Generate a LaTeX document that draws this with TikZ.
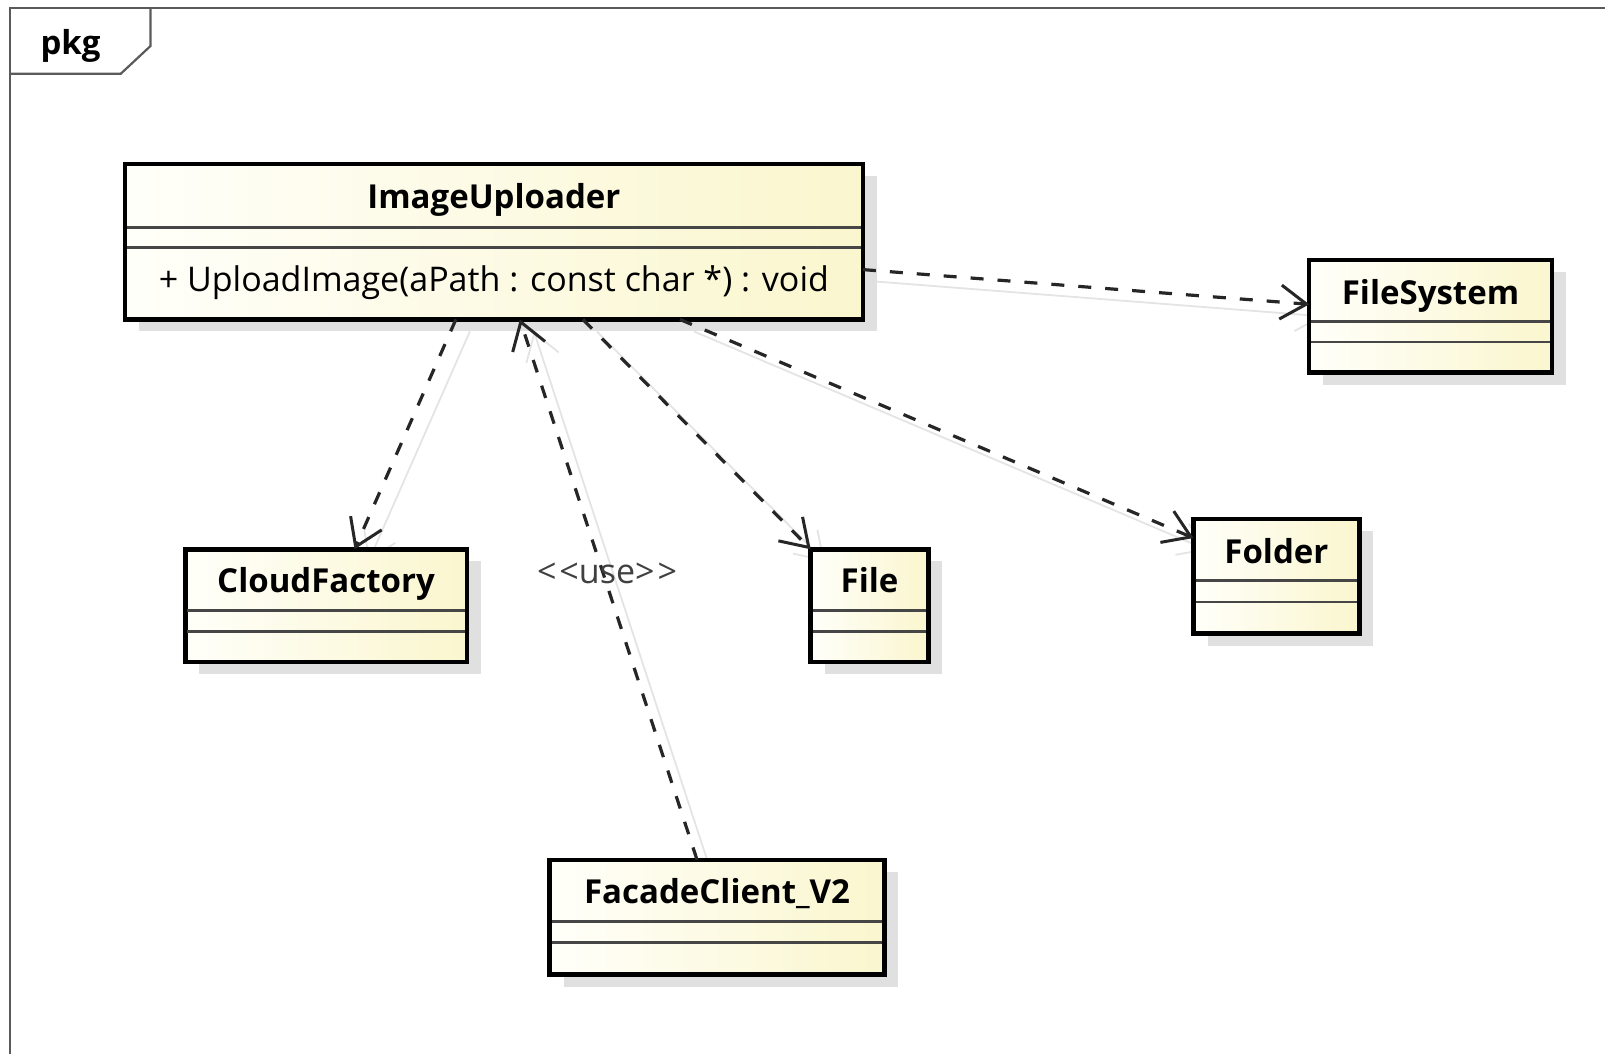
\documentclass[tikz,border=0pt]{standalone}
\usepackage{fontspec}
\setmainfont{Open Sans}
\usetikzlibrary{arrows.meta,shadows,calc}
\definecolor{clsL}{RGB}{255,255,250}
\definecolor{clsR}{RGB}{250,246,206}
\definecolor{frameC}{RGB}{90,90,90}
\definecolor{sepC}{RGB}{70,70,70}
\definecolor{shC}{RGB}{224,224,224}
\definecolor{lnshC}{RGB}{228,228,228}
\begin{document}
\begin{tikzpicture}[x=1pt,y=-1pt,
  font=\fontsize{34}{40}\selectfont,
  cls/.style={draw=black, line width=4.5pt, left color=clsL, right color=clsR,
    anchor=north west, inner sep=0pt, outer sep=0pt,
    general shadow={fill=shC, shadow xshift=14pt, shadow yshift=-12pt}},
  clsname/.style={anchor=base, inner sep=0pt, font=\fontsize{33}{40}\selectfont\bfseries},
  member/.style={anchor=base, inner sep=0pt},
  sep/.style={draw=sepC, line width=2.8pt, shorten <=2pt, shorten >=2pt},
  frameline/.style={draw=frameC, line width=2.2pt},
  dep/.style={draw=black!85, line width=3.2pt, dash pattern=on 13pt off 14pt,
    -{Straight Barb[length=26pt,width=34pt,line width=3pt]}},
  depsh/.style={draw=lnshC, line width=1.8pt,
    -{Straight Barb[length=26pt,width=34pt,line width=1.8pt]},
    transform canvas={xshift=14pt,yshift=-12pt}}
]
\useasboundingbox (0,0) rectangle (1605,1053);

% package frame
\draw[frameline] (1625,8) -- (10,8) -- (10,1075);
\draw[frameline] (10,73.7) -- (120.8,73.7) -- (150.5,46) -- (150.5,8);
\node[clsname] (pkg) at (70.5,54) {pkg};

% class box positions
\coordinate (iuP) at (124.9,163.8);
\coordinate (fsP) at (1309.2,260);
\coordinate (cfP) at (185.3,549.3);
\coordinate (flP) at (810.7,549.3);
\coordinate (foP) at (1193.5,519);
\coordinate (fcP) at (549.7,859.8);

% geometry helper nodes
\path (iuP) node[anchor=north west, minimum width=738pt, minimum height=155.6pt, inner sep=0pt, outer sep=0pt] (iu) {};
\path (fsP) node[anchor=north west, minimum width=242.6pt, minimum height=112.6pt, inner sep=0pt, outer sep=0pt] (fs) {};
\path (cfP) node[anchor=north west, minimum width=281.5pt, minimum height=112.6pt, inner sep=0pt, outer sep=0pt] (cf) {};
\path (flP) node[anchor=north west, minimum width=117.7pt, minimum height=112.6pt, inner sep=0pt, outer sep=0pt] (fl) {};
\path (foP) node[anchor=north west, minimum width=165.8pt, minimum height=114.6pt, inner sep=0pt, outer sep=0pt] (fo) {};
\path (fcP) node[anchor=north west, minimum width=334.7pt, minimum height=114.7pt, inner sep=0pt, outer sep=0pt] (fc) {};

% connector shadows
\draw[depsh] ([yshift=-28pt]iu.east) -- ([yshift=12pt]fs.west);
\draw[depsh] ([xshift=-38pt]iu.south) -- ([xshift=28.5pt]cf.north);
\draw[depsh] ([xshift=-20pt]fc.north) -- ([xshift=26pt]iu.south);
\draw[depsh] ([xshift=89pt]iu.south) -- (fl.north west);
\draw[depsh] ([xshift=186pt]iu.south) -- ([yshift=-19pt]fo.north west);

% boxes
\node[cls, minimum width=738pt, minimum height=155.6pt] (iuB) at (iuP) {};
\node[cls, minimum width=242.6pt, minimum height=112.6pt] (fsB) at (fsP) {};
\node[cls, minimum width=281.5pt, minimum height=112.6pt] (cfB) at (cfP) {};
\node[cls, minimum width=117.7pt, minimum height=112.6pt] (flB) at (flP) {};
\node[cls, minimum width=165.8pt, minimum height=114.6pt] (foB) at (foP) {};
\node[cls, minimum width=334.7pt, minimum height=114.7pt] (fcB) at (fcP) {};

% names, members, separators
\node[clsname] (iuN) at ($(iu.north)+(0,45)$) {ImageUploader};
\draw[sep] ($(iu.north west)+(0,63.4)$) -- ($(iu.north east)+(0,63.4)$);
\draw[sep] ($(iu.north west)+(0,83.9)$) -- ($(iu.north east)+(0,83.9)$);
\node[member] (iuM) at ($(iu.north)+(0,128)$) {+ UploadImage(aPath : const char *) : void};

\node[clsname] (fsN) at ($(fs.north)+(0,44)$) {FileSystem};
\draw[sep] ($(fs.north west)+(0,61.4)$) -- ($(fs.north east)+(0,61.4)$);
\draw[sep] ($(fs.north west)+(0,82)$) -- ($(fs.north east)+(0,82)$);

\node[clsname] (cfN) at ($(cf.north)+(0,43)$) {CloudFactory};
\draw[sep] ($(cf.north west)+(0,61.4)$) -- ($(cf.north east)+(0,61.4)$);
\draw[sep] ($(cf.north west)+(0,82.5)$) -- ($(cf.north east)+(0,82.5)$);

\node[clsname] (flN) at ($(fl.north)+(0,43)$) {File};
\draw[sep] ($(fl.north west)+(0,61.4)$) -- ($(fl.north east)+(0,61.4)$);
\draw[sep] ($(fl.north west)+(0,82.5)$) -- ($(fl.north east)+(0,82.5)$);

\node[clsname] (foN) at ($(fo.north)+(0,44)$) {Folder};
\draw[sep] ($(fo.north west)+(0,61.4)$) -- ($(fo.north east)+(0,61.4)$);
\draw[sep] ($(fo.north west)+(0,82.9)$) -- ($(fo.north east)+(0,82.9)$);

\node[clsname] (fcN) at ($(fc.north)+(0,44)$) {FacadeClient\_V2};
\draw[sep] ($(fc.north west)+(0,61.5)$) -- ($(fc.north east)+(0,61.5)$);
\draw[sep] ($(fc.north west)+(0,82.9)$) -- ($(fc.north east)+(0,82.9)$);

% dependencies
\draw[dep] ([yshift=-28pt]iu.east) -- ([yshift=12pt]fs.west);
\draw[dep] ([xshift=-38pt]iu.south) -- ([xshift=28.5pt]cf.north);
\draw[dep] ([xshift=-20pt]fc.north) -- ([xshift=26pt]iu.south);
\draw[dep] ([xshift=89pt]iu.south) -- (fl.north west);
\draw[dep] ([xshift=186pt]iu.south) -- ([yshift=-19pt]fo.north west);

\node[member, text=black!75] (use) at (607,583) {<\hspace{3pt}<use>\hspace{3pt}>};
\end{tikzpicture}
\end{document}
